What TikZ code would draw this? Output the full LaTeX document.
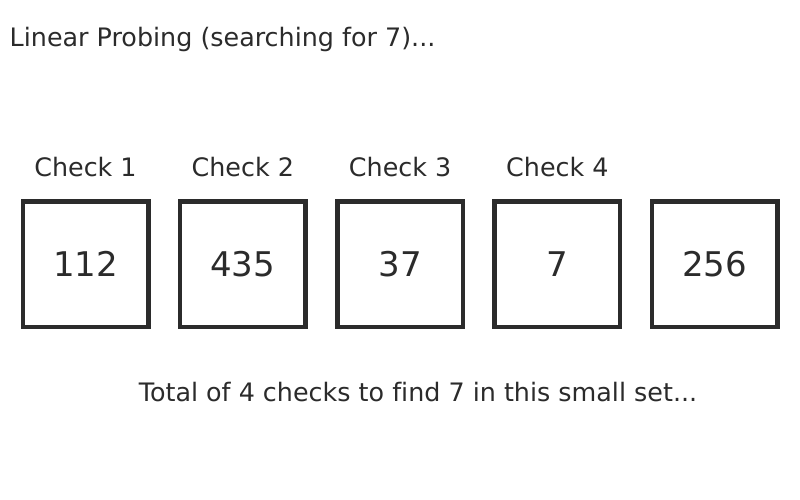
\documentclass[tikz,border=0pt]{standalone}
\usepackage{fontspec}
\setmainfont{DejaVu Sans}[Ligatures=NoCommon]
\usetikzlibrary{positioning}
\definecolor{ink}{HTML}{2B2B2B}

\begin{document}
\begin{tikzpicture}[x=1pt,y=-1pt,node distance=157.3pt,on grid,
    slot/.style={draw=ink,line width=4.5pt,fill=white,minimum size=125.5pt,inner sep=0pt,
      text=ink,font=\fontsize{34}{40}\selectfont},
    caption/.style={text=ink,inner sep=0pt,font=\fontsize{25.4}{30}\selectfont}]
   \useasboundingbox (0,0) rectangle (800,500);
   \node[caption,anchor=base west] (title) at (9.5,46.5) {Linear Probing (searching for 7)...};
   \node[slot] (slot1) at (85.5,264) {112};
   \node[slot] (slot2) [right=of slot1] {435};
   \node[slot] (slot3) [right=of slot2] {37};
   \node[slot] (slot4) [right=of slot3] {7};
   \node[slot] (slot5) [right=of slot4] {256};
   \node[caption] (check1) [above=87.5pt of slot1,anchor=base] {Check 1};
   \node[caption] (check2) [above=87.5pt of slot2,anchor=base] {Check 2};
   \node[caption] (check3) [above=87.5pt of slot3,anchor=base] {Check 3};
   \node[caption] (check4) [above=87.5pt of slot4,anchor=base] {Check 4};
   \node[caption,anchor=base] (total) at (418,401) {Total of 4 checks to find 7 in this small set...};
\end{tikzpicture}
\end{document}
